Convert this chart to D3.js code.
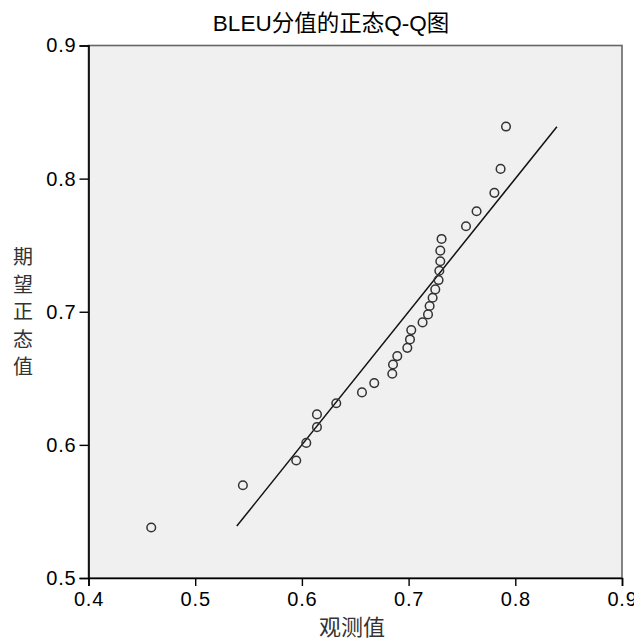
<!DOCTYPE html>
<html>
<head>
<meta charset="utf-8">
<script src="https://cdn.jsdelivr.net/npm/d3@7"></script>
<style>
  body { margin: 0; background: #fff; }
  text { font-family: Arial, "Liberation Sans", sans-serif; }
</style>
</head>
<body>
<div id="chart"></div>
<script>
var observed = [0.4588, 0.5447, 0.5947, 0.6041, 0.6141, 0.6141, 0.6322, 0.6563, 0.6678, 0.6847,
                0.6854, 0.6894, 0.6988, 0.7013, 0.7025, 0.7131, 0.7182, 0.7197, 0.7225, 0.7250,
                0.7281, 0.7288, 0.7297, 0.7297, 0.7309, 0.7538, 0.7637, 0.7804, 0.7862, 0.7913];
var expected = [0.5379, 0.5697, 0.5883, 0.6015, 0.6133, 0.6229, 0.6313, 0.6394, 0.6464, 0.6534,
                0.6604, 0.6667, 0.6729, 0.6792, 0.6862, 0.6920, 0.6980, 0.7043, 0.7105, 0.7168,
                0.7238, 0.7308, 0.7379, 0.7459, 0.7547, 0.7642, 0.7755, 0.7893, 0.8073, 0.8391];
var refLine = [0.539, 0.839];
var xTicks = [0.4, 0.5, 0.6, 0.7, 0.8, 0.9];
var yTicks = [0.5, 0.6, 0.7, 0.8, 0.9];

var W = 634, H = 639;
var margin = {top: 45.5, right: 12, bottom: 61, left: 88.5};
var width = W - margin.left - margin.right,
    height = H - margin.top - margin.bottom;

var svg = d3.select("#chart").append("svg")
    .attr("width", W)
    .attr("height", H);

var g = svg.append("g")
    .attr("transform", "translate(" + margin.left + "," + margin.top + ")");

var x = d3.scaleLinear().domain([0.4, 0.9]).range([0, width]);
var y = d3.scaleLinear().domain([0.5, 0.9]).range([height, 0]);

// plot background + frame
g.append("rect")
    .attr("width", width)
    .attr("height", height)
    .attr("fill", "#f0f0f0")
    .attr("stroke", "#666")
    .attr("stroke-width", 1.6);

// reference line y = x
g.append("line")
    .attr("x1", x(refLine[0])).attr("y1", y(refLine[0]))
    .attr("x2", x(refLine[1])).attr("y2", y(refLine[1]))
    .attr("stroke", "#111")
    .attr("stroke-width", 1.5);

// points
g.selectAll("circle")
    .data(observed)
    .enter().append("circle")
    .attr("cx", function(d) { return x(d); })
    .attr("cy", function(d, i) { return y(expected[i]); })
    .attr("r", 4.3)
    .attr("fill", "none")
    .attr("stroke", "#333")
    .attr("stroke-width", 1.5);

// axes
var xAxis = g.append("g")
    .attr("transform", "translate(0," + height + ")")
    .call(d3.axisBottom(x).tickValues(xTicks).tickFormat(d3.format(".1f")).tickSizeOuter(0).tickSize(8).tickPadding(6));
var yAxis = g.append("g")
    .call(d3.axisLeft(y).tickValues(yTicks).tickFormat(d3.format(".1f")).tickSizeOuter(0).tickSize(9).tickPadding(3));

[xAxis, yAxis].forEach(function(a) {
    a.select(".domain").attr("stroke", "#000").attr("stroke-width", 1.6);
    a.selectAll(".tick line").attr("stroke", "#000").attr("stroke-width", 1.4);
    a.selectAll(".tick text")
        .attr("fill", "#000")
        .style("font-family", "Arial, 'Liberation Sans', sans-serif")
        .style("font-size", "20px")
        .style("letter-spacing", "0.8px");
});

// title
svg.append("text")
    .attr("x", 331)
    .attr("y", 31)
    .attr("text-anchor", "middle")
    .attr("fill", "#000")
    .style("font-family", "Arial, 'Liberation Sans', 'Noto Sans CJK SC', sans-serif")
    .style("font-size", "22.5px")
    .text("BLEU分值的正态Q-Q图");

// x axis title
svg.append("text")
    .attr("x", 352)
    .attr("y", 635)
    .attr("text-anchor", "middle")
    .attr("fill", "#333")
    .style("font-family", "'Noto Sans CJK SC', sans-serif")
    .style("font-size", "22px")
    .text("观测值");

// y axis title, stacked vertically
var yLabel = ["期", "望", "正", "态", "值"];
svg.append("g").selectAll("text")
    .data(yLabel)
    .enter().append("text")
    .attr("x", 23)
    .attr("y", function(d, i) { return 264 + i * 27.5; })
    .attr("text-anchor", "middle")
    .attr("fill", "#333")
    .style("font-family", "'Noto Sans CJK SC', sans-serif")
    .style("font-size", "20px")
    .text(function(d) { return d; });
</script>
</body>
</html>
